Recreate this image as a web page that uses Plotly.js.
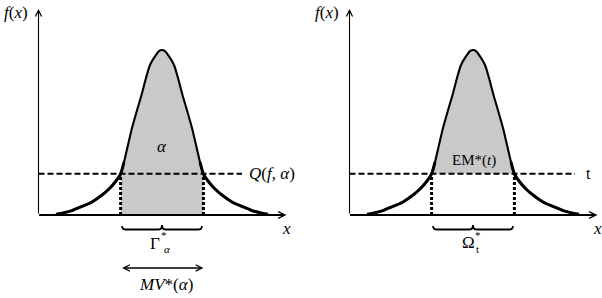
<!DOCTYPE html>
<html>
<head>
<meta charset="utf-8">
<script src="https://cdn.plot.ly/plotly-3.0.1.min.js"></script>
<style>
html,body{margin:0;padding:0;background:#fff;}
#chart{width:602px;height:298px;}
</style>
</head>
<body>
<div id="chart"></div>
<script>
// Density curve (x in arbitrary units, f normalised to peak 1)
const curveX = [-10.6,-10,-9,-8,-7,-6,-5.2,-4.6,-4.15,-3.8,-3.4,-3.0,-2.55,-2.05,-1.6,-1.2,-0.6,-0.3,0,
                0.3,0.6,1.2,1.6,2.05,2.55,3.0,3.4,3.8,4.15,4.6,5.2,6,7,8,9,10,10.6];
const curveF = [0.005,0.011,0.027,0.052,0.079,0.121,0.164,0.206,0.248,0.321,0.424,0.527,0.624,0.727,0.83,0.909,0.97,0.993,1,
                0.993,0.97,0.909,0.83,0.727,0.624,0.527,0.424,0.321,0.248,0.206,0.164,0.121,0.079,0.052,0.027,0.011,0.005];
const level = 0.25;           // Q(f,alpha) = t
const axisStart = -12.35, axisEnd = 12.45, axisTop = 1.248;
const dashEndLeft = 8.0, dashEndRight = 10.2;

function crossing(){
  for (let i = curveX.length - 1; i > 0; i--) {
    const a = curveF[i-1], b = curveF[i];
    if (a >= level && b < level) {
      return curveX[i-1] + (level - a) / (b - a) * (curveX[i] - curveX[i-1]);
    }
  }
  return 0;
}
const xc = crossing();

const insideX = [], insideF = [];
curveX.forEach((x,i)=>{ if (Math.abs(x) < xc) { insideX.push(x); insideF.push(curveF[i]); } });
// tails (below the level) drawn a little heavier, as in the source figure
const leftTailX = [], leftTailF = [], rightTailX = [], rightTailF = [];
curveX.forEach((x,i)=>{
  if (x <= -xc + 0.4) { leftTailX.push(x); leftTailF.push(curveF[i]); }
  if (x >= xc - 0.4) { rightTailX.push(x); rightTailF.push(curveF[i]); }
});

const fillGray = '#c9c9c9';
const traces = [];
traces.push({x:[-xc, ...insideX, xc, xc, -xc], y:[level, ...insideF, level, 0, 0],
  xaxis:'x', yaxis:'y', mode:'lines', fill:'toself', fillcolor:fillGray, line:{width:0}, hoverinfo:'skip'});
traces.push({x:[-xc, ...insideX, xc], y:[level, ...insideF, level],
  xaxis:'x2', yaxis:'y', mode:'lines', fill:'toself', fillcolor:fillGray, line:{width:0}, hoverinfo:'skip'});
['x','x2'].forEach((ax, k)=>{
  traces.push({x:[axisStart, k===0?dashEndLeft:dashEndRight], y:[level, level], xaxis:ax, yaxis:'y',
    mode:'lines', line:{color:'#000', width:1.8, dash:'6px,3px'}, hoverinfo:'skip'});
  [-xc, xc].forEach(v=>{
    traces.push({x:[v, v], y:[0, level], xaxis:ax, yaxis:'y', mode:'lines',
      line:{color:'#000', width:3, dash:'3px,2px'}, hoverinfo:'skip'});
  });
  traces.push({x:curveX, y:curveF, xaxis:ax, yaxis:'y', mode:'lines',
    line:{color:'#000', width:2.1, shape:'spline', smoothing:0.7}, hoverinfo:'skip'});
  traces.push({x:leftTailX, y:leftTailF, xaxis:ax, yaxis:'y', mode:'lines',
    line:{color:'#000', width:3, shape:'spline', smoothing:0.7}, hoverinfo:'skip'});
  traces.push({x:rightTailX, y:rightTailF, xaxis:ax, yaxis:'y', mode:'lines',
    line:{color:'#000', width:3, shape:'spline', smoothing:0.7}, hoverinfo:'skip'});
});

const serif = 'Liberation Serif';
function lab(xref, x, y, text, size, extra){
  return Object.assign({xref:xref, yref:'y', x:x, y:y, text:text, showarrow:false,
    font:{family:serif, size:size, color:'#000'}}, extra||{});
}
function arrow(xref, x, y, ax, ay, w, size, both){
  return {xref:xref, yref:'y', axref:xref, ayref:'y', x:x, y:y, ax:ax, ay:ay, text:'',
    showarrow:true, arrowhead:5, startarrowhead:5, arrowside: both?'end+start':'end',
    arrowwidth:w, arrowsize:size, startarrowsize:size, arrowcolor:'#000', standoff:0, startstandoff:0};
}
const annotations = [];
['x','x2'].forEach(ax=>{
  annotations.push(arrow(ax, axisStart, axisTop, axisStart, 0, 1.1, 1.1));
  annotations.push(arrow(ax, axisEnd, 0, axisStart-0.1, 0, 1.8, 0.75));
  annotations.push(lab(ax, -14.6, 1.23, '<i>f</i>(<i>x</i>)', 17));
  annotations.push(lab(ax, 12.4, -0.079, '<i>x</i>', 17));
});
annotations.push(lab('x', 0, 0.418, '<i>α</i>', 17));
annotations.push(lab('x', 8.5, 0.25, '<i>Q</i>(<i>f</i>, <i>α</i>)', 17, {xanchor:'left'}));
annotations.push(lab('x2', 11.5, 0.25, 't', 16));
annotations.push(lab('x2', 0.1, 0.333, 'EM*(<i>t</i>)', 15));
annotations.push(lab('x', -0.7, -0.17, 'Γ', 17));
annotations.push(lab('x', 0.15, -0.122, '*', 11));
annotations.push(lab('x', 0.5, -0.205, '<i>α</i>', 11));
annotations.push(lab('x2', -0.45, -0.164, 'Ω', 17));
annotations.push(lab('x2', 0.45, -0.122, '*', 11));
annotations.push(lab('x2', 0.45, -0.205, 't', 11));
annotations.push(lab('x', 0.4, -0.424, '<i>MV</i>*(<i>α</i>)', 17));
annotations.push(arrow('x', xc, -0.321, -xc, -0.321, 1.4, 0.9, true));

const shapes = [];
['x','x2'].forEach(ax=>{
  const a = xc - 0.15, yb = -0.088, ye = -0.066, yt = -0.06;
  const p = `M ${-a},${ye} Q ${-a},${yb} ${-a+0.4},${yb} L ${-0.4},${yb} Q 0,${yb} 0,${yt} ` +
            `Q 0,${yb} 0.4,${yb} L ${a-0.4},${yb} Q ${a},${yb} ${a},${ye}`;
  shapes.push({type:'path', xref:ax, yref:'y', path:p, line:{color:'#000', width:1.8}});
});

const axisCommon = {visible:false, showgrid:false, zeroline:false, fixedrange:true};
const layout = {
  width:602, height:298, margin:{l:0, r:0, t:0, b:0},
  paper_bgcolor:'#fff', plot_bgcolor:'#fff', showlegend:false,
  font:{family:serif, color:'#000'},
  xaxis:Object.assign({range:[-16.2, 44.0], domain:[0,1]}, axisCommon),
  xaxis2:Object.assign({range:[-47.3, 12.9], domain:[0,1], overlaying:'x'}, axisCommon),
  yaxis:Object.assign({range:[-0.503, 1.303], domain:[0,1]}, axisCommon),
  annotations:annotations, shapes:shapes
};
Plotly.newPlot('chart', traces, layout, {staticPlot:true, displayModeBar:false});
</script>
</body>
</html>
